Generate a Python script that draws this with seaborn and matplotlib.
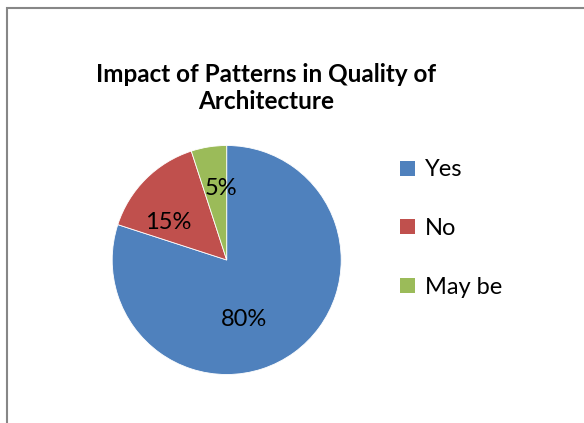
import matplotlib
matplotlib.use("Agg")
import matplotlib.pyplot as plt
from matplotlib.patches import Rectangle
import seaborn as sns

# Survey answers and their shares (percent)
answers = ["Yes", "No", "May be"]
shares = [80, 15, 5]
slice_colors = ["#4F81BD", "#C0504D", "#9BBB59"]
title_text = "Impact of Patterns in Quality of\nArchitecture"

sns.set_theme(style="white")
plt.rcParams["font.family"] = ["Lato", "DejaVu Sans"]
plt.rcParams["text.color"] = "black"

W, H = 584, 423
fig = plt.figure(figsize=(W / 100, H / 100), dpi=100)
fig.patch.set_facecolor("white")
ax = fig.add_axes([0, 0, 1, 1])

cx, cy, r = 226.7, H - 260.0, 114.5
wedges, texts, autotexts = ax.pie(
    shares, colors=slice_colors, startangle=90, counterclock=False,
    center=(cx, cy), radius=r, autopct="%d%%", pctdistance=0.6,
    wedgeprops=dict(edgecolor="white", linewidth=0.6),
    textprops=dict(fontsize=17, color="black"),
)

# work in pixel units over the whole figure
ax.set_xlim(0, W)
ax.set_ylim(0, H)
ax.set_aspect("equal")
ax.axis("off")

label_pos = {"Yes": (244, 319), "No": (168, 222), "May be": (221.5, 188)}
for name, t in zip(answers, autotexts):
    x, y = label_pos[name]
    t.set_position((x, H - y))
    t.set_ha("center")
    t.set_va("center")

# chart-area border (top and left edges visible)
ax.add_patch(Rectangle((7, -20), W + 40, (H - 8) + 20, fill=False,
                       edgecolor="#878787", linewidth=1.5, clip_on=False))

ax.text(266, H - 88, title_text, ha="center", va="center", fontsize=17.5,
        fontweight="bold", linespacing=1.2, color="black")

leg = ax.legend(wedges, answers, loc="upper left",
                bbox_to_anchor=(391 / W, 1 - 150 / H), frameon=False,
                fontsize=17, handlelength=0.62, handleheight=0.6,
                handletextpad=0.42, labelspacing=1.6, borderaxespad=0,
                labelcolor="black")
for h in leg.legend_handles:
    h.set_edgecolor("none")

fig.savefig("out.png", dpi=100, facecolor="white")
